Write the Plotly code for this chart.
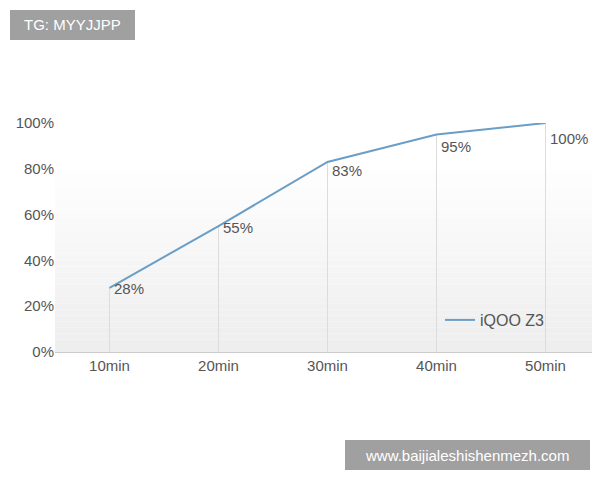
import plotly.graph_objects as go

categories = ["10min", "20min", "30min", "40min", "50min"]
values = [28, 55, 83, 95, 100]
labels = ["28%", "55%", "83%", "95%", "100%"]
series_name = "iQOO Z3"

OX, OY = 55, 123   # plot origin in page px
PW, PH = 545, 229

def px(x): return (x - OX) / PW
def py(y): return (OY + PH - y) / PH

label_shift = [-1, -1, -9, -12, -15]

fig = go.Figure()
for c, v in zip(categories, values):
    fig.add_trace(go.Scatter(x=[c, c], y=[0, v], mode="lines",
                             line=dict(color="#dcdcdc", width=1),
                             showlegend=False, hoverinfo="skip"))
fig.add_trace(go.Scatter(x=categories, y=values, mode="lines", name=series_name,
                         line=dict(color="#6a9ec6", width=2)))
for c, v, t, s in zip(categories, values, labels, label_shift):
    fig.add_annotation(x=c, y=v, text=t, showarrow=False, xanchor="left", yanchor="middle",
                       xshift=2, yshift=s, font=dict(size=15, color="#555"))

shapes = []
n = 30
for i in range(n):
    y0 = i / n * 0.8
    y1 = (i + 1) / n * 0.8
    g = int(238 + (255 - 238) * i / n)
    shapes.append(dict(type="rect", xref="paper", yref="paper", x0=0, x1=1, y0=y0, y1=y1,
                       fillcolor=f"rgb({g},{g},{g})", line=dict(width=0), layer="below"))
shapes.append(dict(type="rect", xref="paper", yref="paper", x0=px(10), x1=px(135),
                   y0=py(40), y1=py(10), fillcolor="#a0a0a0", line=dict(width=0)))
shapes.append(dict(type="rect", xref="paper", yref="paper", x0=px(345), x1=px(590),
                   y0=py(470), y1=py(440), fillcolor="#a0a0a0", line=dict(width=0)))
fig.add_annotation(xref="paper", yref="paper", x=px(72), y=py(25), text="TG: MYYJJPP",
                   showarrow=False, font=dict(size=15, color="white"),
                   xanchor="center", yanchor="middle")
fig.add_annotation(xref="paper", yref="paper", x=px(467), y=py(455),
                   text="www.baijialeshishenmezh.com", showarrow=False,
                   font=dict(size=15, color="white"), xanchor="center", yanchor="middle")

fig.update_layout(
    width=592, height=472, margin=dict(l=47, r=0, t=115, b=128),
    paper_bgcolor="white", plot_bgcolor="rgba(0,0,0,0)",
    font=dict(family="Liberation Sans", size=15, color="#555"),
    shapes=shapes,
    showlegend=True,
    legend=dict(x=px(440), y=py(320), xanchor="left", yanchor="middle",
                bgcolor="rgba(0,0,0,0)", font=dict(size=16, color="#555")),
    xaxis=dict(range=[-0.5, 4.5], showgrid=False, showline=True, linecolor="#cccccc",
               ticks="", tickfont=dict(size=15)),
    yaxis=dict(range=[0, 100], tickvals=[0, 20, 40, 60, 80, 100],
               ticktext=["0%", "20%", "40%", "60%", "80%", "100%"], showgrid=False,
               zeroline=False, ticks="", tickfont=dict(size=15)),
)
fig.write_html("out.html")
